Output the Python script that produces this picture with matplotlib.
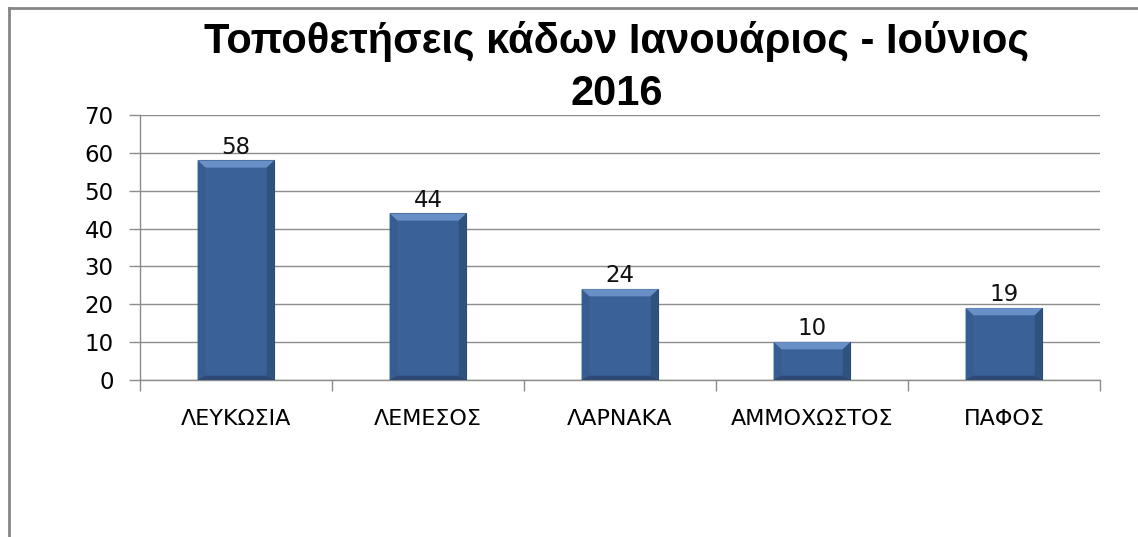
import numpy as np
import matplotlib.pyplot as plt
from matplotlib.patches import Polygon
from matplotlib.lines import Line2D

# data
categories = ["ΛΕΥΚΩΣΙΑ", "ΛΕΜΕΣΟΣ", "ΛΑΡΝΑΚΑ", "ΑΜΜΟΧΩΣΤΟΣ", "ΠΑΦΟΣ"]
values = [58, 44, 24, 10, 19]
yticks = [0, 10, 20, 30, 40, 50, 60, 70]
title_lines = ["Τοποθετήσεις κάδων Ιανουάριος - Ιούνιος", "2016"]

plt.rcParams['font.family'] = ['DejaVu Sans']

W, H = 1138, 537
fig = plt.figure(figsize=(W / 100, H / 100), dpi=100)
ax = fig.add_axes([140 / W, 1 - 380 / H, 960 / W, 265 / H])

x = np.arange(len(categories))
width = 0.4
base = "#3b6298"
bars = ax.bar(x, values, width=width, color=base, edgecolor="#2c4a73", linewidth=0.8, zorder=3)

# simple bevel on each bar
bx = 0.04
by = 1.9
for b in bars:
    x0, x1 = b.get_x(), b.get_x() + b.get_width()
    h = b.get_height()
    ax.add_patch(Polygon([(x0, h), (x1, h), (x1 - bx, h - by), (x0 + bx, h - by)],
                         closed=True, facecolor="#6890c6", edgecolor="none", zorder=4))
    ax.add_patch(Polygon([(x0, h), (x0 + bx, h - by), (x0 + bx, by * 0.6), (x0, 0)],
                         closed=True, facecolor="#375d90", edgecolor="none", zorder=4))
    ax.add_patch(Polygon([(x1, h), (x1 - bx, h - by), (x1 - bx, by * 0.6), (x1, 0)],
                         closed=True, facecolor="#30527f", edgecolor="none", zorder=4))
    ax.add_patch(Polygon([(x0, 0), (x1, 0), (x1 - bx, by * 0.6), (x0 + bx, by * 0.6)],
                         closed=True, facecolor="#2c4a75", edgecolor="none", zorder=4))
    ax.text(b.get_x() + b.get_width() / 2, h + 0.5, str(int(h)), ha="center", va="bottom",
            fontsize=16.5, color="#111111", zorder=5)

ax.set_xlim(-0.5, len(categories) - 0.5)
ax.set_ylim(0, 70)
ax.set_yticks(yticks)
ax.yaxis.grid(True, color="#8c8c8c", linewidth=1.0, zorder=0)
ax.set_axisbelow(True)

ax.set_xticks(x)
ax.set_xticklabels(categories, fontsize=16)
ax.set_xticks(np.arange(len(categories) + 1) - 0.5, minor=True)
ax.tick_params(axis="x", which="major", length=0, pad=21)
ax.tick_params(axis="x", which="minor", length=8, color="#8c8c8c", width=1.0)
ax.tick_params(axis="y", length=8, color="#8c8c8c", width=1.0, pad=11, labelsize=16.5)

for s in ["top", "right"]:
    ax.spines[s].set_visible(False)
for s in ["left", "bottom"]:
    ax.spines[s].set_color("#8c8c8c")
    ax.spines[s].set_linewidth(1.0)

# title, two lines placed on their baselines
for line, ypx in zip(title_lines, [53, 105]):
    fig.text(617 / W, 1 - ypx / H, line, ha="center", va="baseline", fontsize=30,
             fontweight="bold", family="Liberation Sans")

# chart frame (only left and top edges show in the crop)
fig.add_artist(Line2D([9 / W, 9 / W], [0, 1 - 8 / H], transform=fig.transFigure,
                      color="#868686", linewidth=2))
fig.add_artist(Line2D([9 / W, 1], [1 - 8 / H, 1 - 8 / H], transform=fig.transFigure,
                      color="#868686", linewidth=2))

fig.savefig("out.png", dpi=100)
